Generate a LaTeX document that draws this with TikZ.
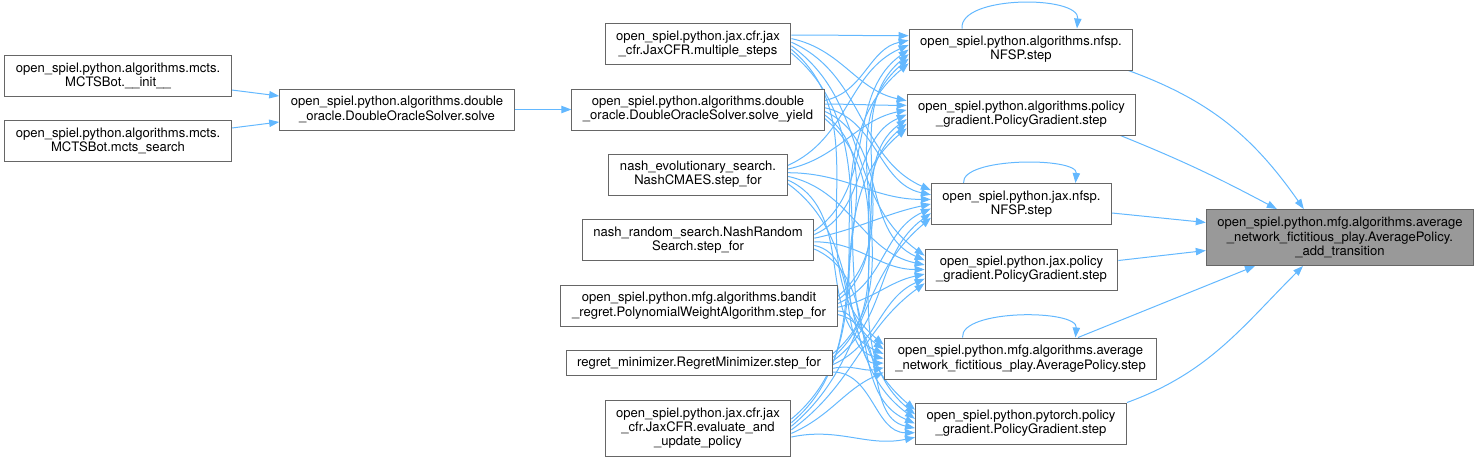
\documentclass[tikz,border=0pt]{standalone}
\usepackage{fontspec}
\setmainfont{TeX Gyre Heros}
\usetikzlibrary{arrows.meta,calc,backgrounds}
\definecolor{edgeblue}{HTML}{63B8FF}
\definecolor{boxline}{HTML}{666666}
\definecolor{focusfill}{HTML}{999999}

\begin{document}
\begin{tikzpicture}[x=0.75pt,y=-0.75pt,
  fn/.style={draw=boxline,line width=0.75pt,fill=white,align=center,inner xsep=8.3pt,
    font=\fontsize{9.8}{10.7}\selectfont,minimum height=30.75pt},
  fnthree/.style={fn,minimum height=42pt},
  fnone/.style={fn,minimum height=18.75pt},
  call/.style={draw=edgeblue,line width=0.75pt,-{Triangle[length=7.5pt,width=5.5pt]}}]
\useasboundingbox (0,0) rectangle (1478,462);

\node[fn] (mctsinit) at (118,76) {open\_spiel.python.algorithms.mcts.\\MCTSBot.\_\_init\_\_};
\node[fn] (mctssearch) at (118,141) {open\_spiel.python.algorithms.mcts.\\MCTSBot.mcts\_search};
\node[fn] (dosolve) at (397,109.5) {open\_spiel.python.algorithms.double\\\_oracle.DoubleOracleSolver.solve};

\node[fn] (jaxsteps) at (698,44) {open\_spiel.python.jax.cfr.jax\\\_cfr.JaxCFR.multiple\_steps};
\node[fn] (doyield) at (698,109.5) {open\_spiel.python.algorithms.double\\\_oracle.DoubleOracleSolver.solve\_yield};
\node[fn] (cmaes) at (698,174.5) {nash\_evolutionary\_search.\\NashCMAES.step\_for};
\node[fn] (randsearch) at (698,240) {nash\_random\_search.NashRandom\\Search.step\_for};
\node[fn] (polyweight) at (699,305.5) {open\_spiel.python.mfg.algorithms.bandit\\\_regret.PolynomialWeightAlgorithm.step\_for};
\node[fnone] (regretmin) at (699,363) {regret\_minimizer.RegretMinimizer.step\_for};
\node[fnthree] (jaxeval) at (698,428) {open\_spiel.python.jax.cfr.jax\\\_cfr.JaxCFR.evaluate\_and\\\_update\_policy};

\node[fn] (nfsp) at (1021,49.5) {open\_spiel.python.algorithms.nfsp.\\NFSP.step};
\node[fn] (pg) at (1021.5,114.5) {open\_spiel.python.algorithms.policy\\\_gradient.PolicyGradient.step};
\node[fn] (jaxnfsp) at (1021.5,204) {open\_spiel.python.jax.nfsp.\\NFSP.step};
\node[fn] (jaxpg) at (1021.5,269.5) {open\_spiel.python.jax.policy\\\_gradient.PolicyGradient.step};
\node[fn] (avgstep) at (1020.5,358.5) {open\_spiel.python.mfg.algorithms.average\\\_network\_fictitious\_play.AveragePolicy.step};
\node[fn] (torchpg) at (1021,423.5) {open\_spiel.python.pytorch.policy\\\_gradient.PolicyGradient.step};

\node[fnthree,fill=focusfill] (addtrans) at (1340,237.5) {open\_spiel.python.mfg.algorithms.average\\\_network\_fictitious\_play.AveragePolicy.\\\_add\_transition};

\begin{scope}[on background layer]
\draw[call] ($(mctsinit.east)+(0,14)$) -- ($(dosolve.west)+(0,-13.5)$);
\draw[call] ($(mctssearch.east)+(0,-13)$) -- ($(dosolve.west)+(0,12.5)$);
\draw[call] (dosolve) -- (doyield);

\foreach \src [count=\s] in {jaxsteps,doyield,cmaes,randsearch,polyweight,regretmin,jaxeval}{
  \foreach \dst [count=\t] in {nfsp,pg,jaxnfsp,jaxpg,avgstep,torchpg}{
    \pgfmathsetmacro\bend{max(-40,min(40,12*(\t-\s)))}
    \draw[call] ($(\src.east)+(0,{(\t-3.5)*3.6})$) to[out=-\bend,in=180-\bend] ($(\dst.west)+(0,{(\s-4)*4.6})$);
  }
}

% recursive calls
\draw[call] ($(nfsp.north)+(-59,0)$) to[out=95,in=85,looseness=0.75] ($(nfsp.north)+(56,0)$);
\draw[call] ($(jaxnfsp.north)+(-58,0)$) to[out=95,in=85,looseness=0.6] ($(jaxnfsp.north)+(54,0)$);
\draw[call] ($(avgstep.north)+(-58,0)$) to[out=95,in=85,looseness=0.65] ($(avgstep.north)+(55,0)$);

\draw[call] ($(nfsp.south east)+(-5,0)$) to[out=-20,in=125] ($(addtrans.north west)+(98,0)$);
\draw[call] ($(pg.south east)+(-16,0)$) to[out=-22,in=152] ($(addtrans.north west)+(71,0)$);
\draw[call] ($(jaxnfsp.east)+(0,9)$) -- ($(addtrans.west)+(0,-15)$);
\draw[call] ($(jaxpg.east)+(0,-9)$) -- ($(addtrans.west)+(0,13)$);
\draw[call] ($(avgstep.north)+(57.5,0)$) -- ($(addtrans.south)+(-85,0)$);
\draw[call] ($(torchpg.north east)+(0,0)$) to[out=20,in=-135] ($(addtrans.south)+(-37,0)$);
\end{scope}
\end{tikzpicture}
\end{document}
